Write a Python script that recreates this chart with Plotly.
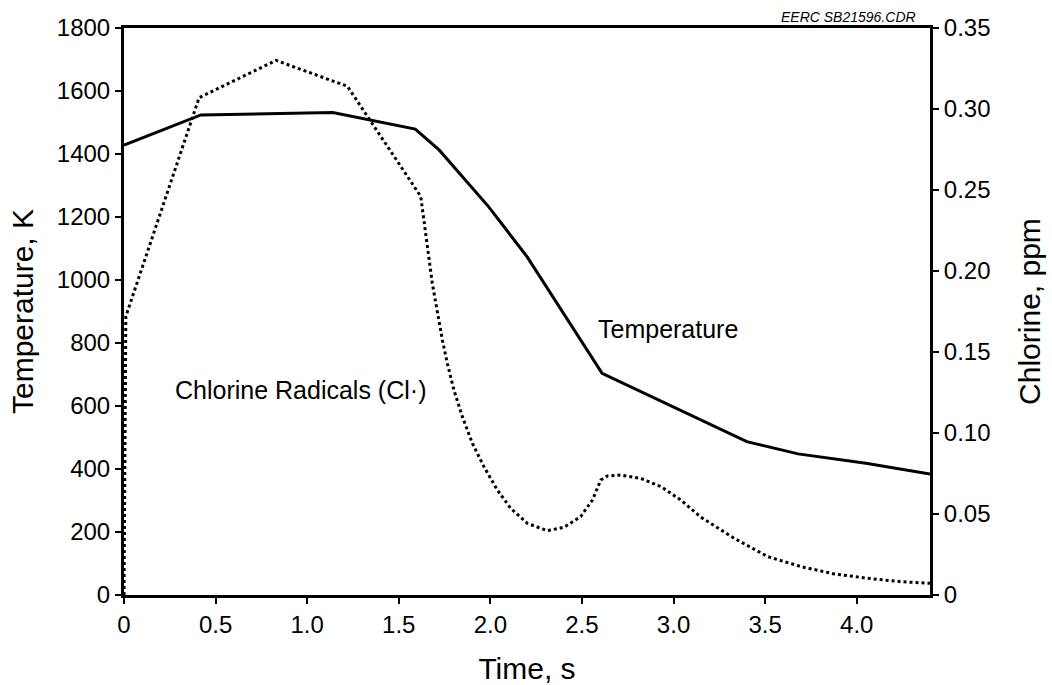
import plotly.graph_objects as go

# Temperature (K) vs time (s)
temp_time = [0.0, 0.42, 1.14, 1.59, 1.72, 1.99, 2.20, 2.61, 3.40, 3.68, 4.05, 4.40]
temp_vals = [1428, 1524, 1532, 1479, 1413, 1233, 1074, 704, 487, 448, 418, 384]

# Chlorine radicals (ppm) vs time (s)
cl_time = [0.0, 0.01, 0.41, 0.83, 1.22, 1.62, 1.683, 1.710, 1.738, 1.765, 1.801, 1.847,
           1.902, 1.965, 2.038, 2.111, 2.202, 2.311, 2.402, 2.493, 2.557, 2.603, 2.639,
           2.712, 2.821, 2.931, 3.040, 3.150, 3.331, 3.514, 3.696, 3.878, 4.060, 4.242, 4.40]
cl_vals = [0.0, 0.172, 0.307, 0.330, 0.314, 0.246, 0.1924, 0.1739, 0.1574, 0.1430, 0.1265,
           0.1101, 0.0936, 0.0792, 0.0648, 0.0535, 0.0442, 0.0397, 0.0418, 0.0484, 0.0586,
           0.0710, 0.0735, 0.0741, 0.0720, 0.0669, 0.0586, 0.0480, 0.0350, 0.0237, 0.0175,
           0.0130, 0.0103, 0.0082, 0.0072]

x_ticks = [0, 0.5, 1.0, 1.5, 2.0, 2.5, 3.0, 3.5, 4.0]
x_labels = ["0", "0.5", "1.0", "1.5", "2.0", "2.5", "3.0", "3.5", "4.0"]
y_ticks = [0, 200, 400, 600, 800, 1000, 1200, 1400, 1600, 1800]
y2_ticks = [0, 0.05, 0.10, 0.15, 0.20, 0.25, 0.30, 0.35]
y2_labels = ["0", "0.05", "0.10", "0.15", "0.20", "0.25", "0.30", "0.35"]

FONT = "Liberation Sans, Arial, Helvetica, sans-serif"

fig = go.Figure()
fig.add_trace(go.Scatter(x=temp_time, y=temp_vals, mode="lines",
                         line=dict(color="black", width=3), yaxis="y", showlegend=False))
fig.add_trace(go.Scatter(x=cl_time, y=cl_vals, mode="lines",
                         line=dict(color="black", width=3, dash="dot"), yaxis="y2", showlegend=False))

axis_common = dict(showgrid=False, zeroline=False, showline=True, linecolor="black", linewidth=3,
                   ticks="outside", ticklen=6, tickwidth=2, tickcolor="black",
                   tickfont=dict(size=24), automargin=False)

fig.update_layout(
    width=1052, height=685,
    margin=dict(l=124, r=122, t=28, b=90),
    plot_bgcolor="white", paper_bgcolor="white",
    font=dict(family=FONT, color="black", size=24),
    xaxis=dict(range=[0, 4.4], tickvals=x_ticks, ticktext=x_labels, mirror=True,
               title=dict(text="Time, s", font=dict(size=30), standoff=28), **axis_common),
    yaxis=dict(range=[0, 1800], tickvals=y_ticks,
               title=dict(text="Temperature, K", font=dict(size=30), standoff=15), **axis_common),
    yaxis2=dict(range=[0, 0.35], tickvals=y2_ticks, ticktext=y2_labels, overlaying="y",
                side="right",
                title=dict(text="Chlorine, ppm", font=dict(size=30), standoff=30), **axis_common),
    annotations=[
        dict(x=0.963, y=0.1265, xref="x", yref="y2", text="Chlorine Radicals (Cl·)",
             showarrow=False, xanchor="center", yanchor="middle", font=dict(size=25)),
        dict(x=2.575, y=0.164, xref="x", yref="y2", text="Temperature",
             showarrow=False, xanchor="left", yanchor="middle", font=dict(size=25)),
        dict(x=0.985, y=1.0, xref="paper", yref="paper", text="<i>EERC SB21596.CDR</i>",
             showarrow=False, xanchor="right", yanchor="bottom", yshift=1, font=dict(size=14)),
    ],
)

fig.write_html("out.html")
